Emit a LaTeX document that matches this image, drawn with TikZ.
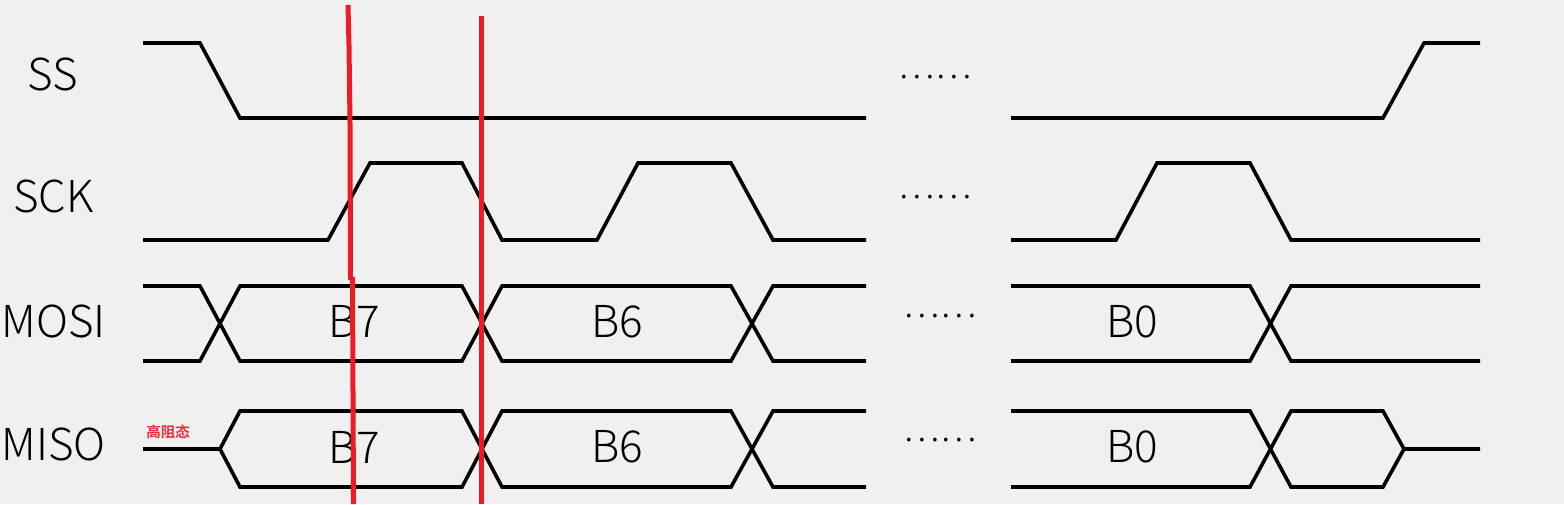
\documentclass[tikz,border=0pt]{standalone}
\usepackage{fontspec}
\newfontfamily\labfont{Noto Sans CJK SC}[UprightFont={* Light}]
\newfontfamily\cjkbold{Noto Sans CJK SC}[UprightFont={* Bold}]
\definecolor{bgc}{HTML}{F0F0F0}
\definecolor{redl}{HTML}{ED1C24}
\definecolor{redt}{HTML}{E8303A}
\tikzset{
  wave/.style={line width=3.6pt, black, line join=miter},
  sig/.style={font=\labfont\fontsize{44}{44}\selectfont, inner sep=0pt, anchor=center},
  bit/.style={font=\labfont\fontsize{44}{44}\selectfont, inner sep=0pt, anchor=center},
  dots/.style={font=\labfont\fontsize{35}{35}\selectfont, inner sep=0pt, anchor=center},
  marker/.style={line width=5pt, redl},
  hiz/.style={font=\cjkbold\fontsize{14.5}{14.5}\selectfont, text=redt, inner sep=0pt}
}
\begin{document}
\begin{tikzpicture}[x=1pt,y=-1pt]
\useasboundingbox (0,0) rectangle (1564,504);
\fill[bgc] (0,0) rectangle (1564,504);
% labels
\node[sig] (lss) at (53,74) {SS};
\node[sig] (lsck) at (53.5,196) {SCK};
\node[sig] (lmosi) at (53.5,321) {MOSI};
\node[sig] (lmiso) at (53.5,444) {MISO};
% SS
\draw[wave] (143,43) -- (200,43) -- (240,118) -- (866,118);
\draw[wave] (1011,118) -- (1383,118) -- (1424,43) -- (1480,43);
% SCK
\draw[wave] (143,240) -- (328,240) -- (370,163) -- (462,163) -- (502,240) -- (597,240) -- (638,163) -- (731,163) -- (773,240) -- (866,240);
\draw[wave] (1011,240) -- (1116,240) -- (1157,163) -- (1250,163) -- (1291,240) -- (1480,240);
% MOSI
\draw[wave] (143,286) -- (200,286) -- (240,361) -- (462,361) -- (502,286) -- (731,286) -- (773,361) -- (866,361);
\draw[wave] (143,361) -- (200,361) -- (240,286) -- (462,286) -- (502,361) -- (731,361) -- (773,286) -- (866,286);
\draw[wave] (1011,286) -- (1250,286) -- (1291,361) -- (1480,361);
\draw[wave] (1011,361) -- (1250,361) -- (1291,286) -- (1480,286);
% MISO
\draw[wave] (143,449) -- (220,449) -- (240,411) -- (462,411) -- (502,487) -- (731,487) -- (773,411) -- (866,411);
\draw[wave] (220,449) -- (240,487) -- (462,487) -- (502,411) -- (731,411) -- (773,487) -- (866,487);
\draw[wave] (1011,411) -- (1250,411) -- (1291,487) -- (1383,487) -- (1404,449) -- (1480,449);
\draw[wave] (1011,487) -- (1250,487) -- (1291,411) -- (1383,411) -- (1404,449);
% bit labels
\node[bit] (mo7) at (354,321.5) {B7};
\node[bit] (mo6) at (617,321.5) {B6};
\node[bit] (mo0) at (1132,321.5) {B0};
\node[bit] (mi7) at (354,447) {B7};
\node[bit] (mi6) at (617,447) {B6};
\node[bit] (mi0) at (1132,447) {B0};
% dots
\node[dots] (d1) at (935,77) {……};
\node[dots] (d2) at (935,197) {……};
\node[dots] (d3) at (940,316) {……};
\node[dots] (d4) at (940,440) {……};
% high impedance
\node[hiz] (hz) at (168,432) {高阻态};
% red markers
\draw[marker] (348,5) -- (349,45) -- (350,123) -- (350.5,278) -- (352.5,279) -- (353.5,504);
\draw[marker] (481,16) -- (481,504);
\end{tikzpicture}
\end{document}
